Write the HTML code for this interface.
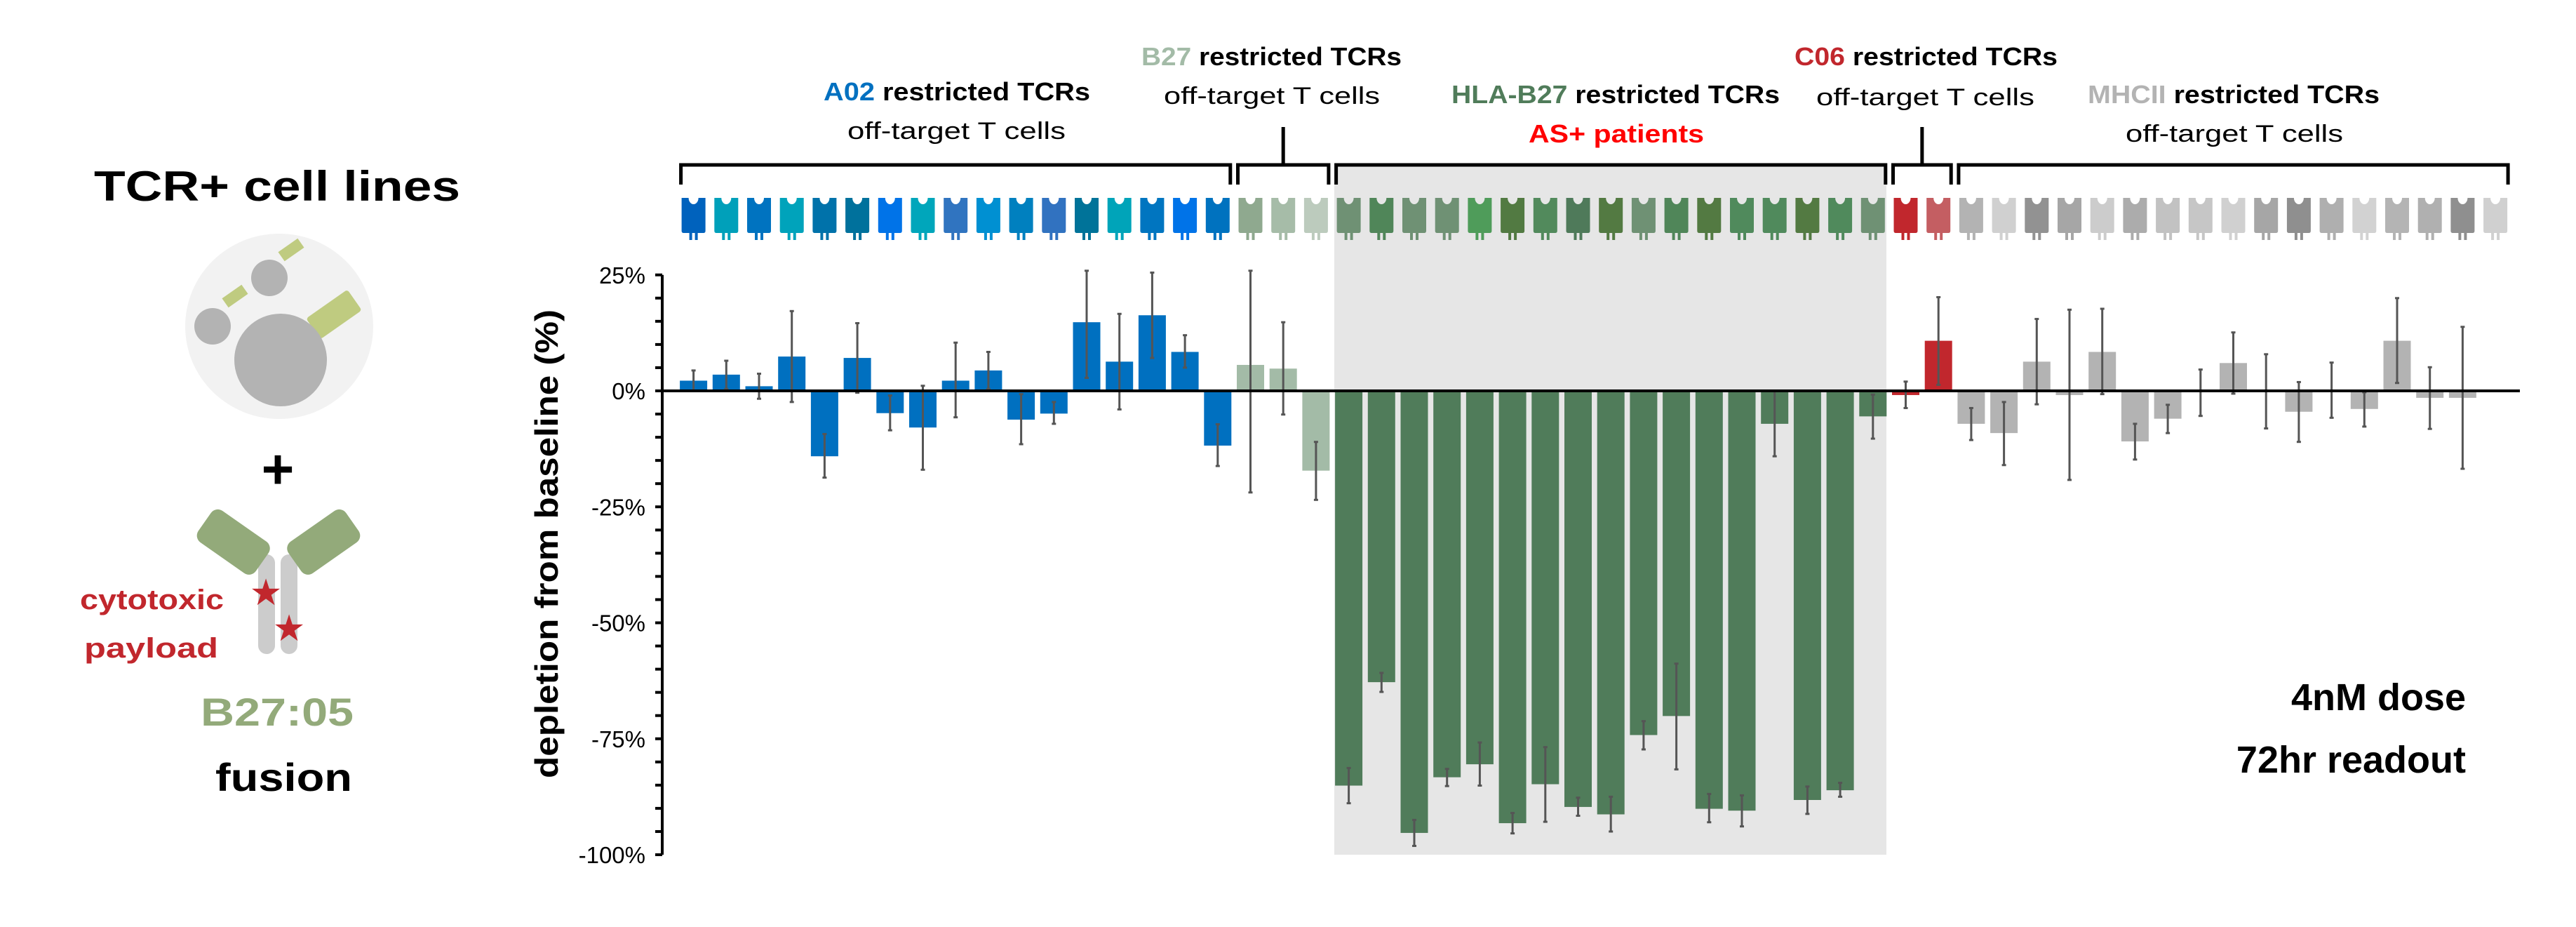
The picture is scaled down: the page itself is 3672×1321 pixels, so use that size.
<!DOCTYPE html>
<html><head><meta charset="utf-8"><style>
html,body{margin:0;padding:0;background:#fff}
svg{display:block}
text{font-family:"Liberation Sans",sans-serif}
</style></head><body>
<svg id="chart" xmlns="http://www.w3.org/2000/svg" width="3672" height="1321" viewBox="0 0 3672 1321">
<rect x="0" y="0" width="3672" height="1321" fill="#fff"/>
<g>
<text x="134" y="286" font-size="60" font-weight="bold" textLength="522" lengthAdjust="spacingAndGlyphs">TCR+ cell lines</text>
<ellipse cx="398" cy="465" rx="134" ry="132" fill="#f2f2f2"/>
<g fill="#bfcb80">
<rect x="318" y="414" width="34" height="16" transform="rotate(-35 335 422)"/>
<rect x="398" y="348" width="34" height="16" transform="rotate(-35 415 356)"/>
<rect x="440" y="430" width="72" height="36" rx="4" transform="rotate(-35 476 448)"/>
</g>
<circle cx="303" cy="465" r="26" fill="#b3b3b3"/>
<circle cx="384" cy="396" r="26" fill="#b3b3b3"/>
<circle cx="400" cy="513" r="66" fill="#b3b3b3"/>
<text x="396" y="696" font-size="80" font-weight="bold" text-anchor="middle">+</text>
<rect x="368" y="790" width="24" height="142" rx="12" fill="#cccccc"/>
<rect x="400" y="790" width="24" height="142" rx="12" fill="#cccccc"/>
<rect x="283" y="745" width="100" height="55" rx="12" fill="#93aa7a" transform="rotate(35 333 772)"/>
<rect x="411" y="745" width="100" height="55" rx="12" fill="#93aa7a" transform="rotate(-35 461 772)"/>
<text x="379" y="862" font-size="52" fill="#c1272d" text-anchor="middle">★</text>
<text x="412" y="913" font-size="52" fill="#c1272d" text-anchor="middle">★</text>
<text x="114" y="868" font-size="40" font-weight="bold" fill="#c1272d" textLength="205" lengthAdjust="spacingAndGlyphs">cytotoxic</text>
<text x="120" y="937" font-size="40" font-weight="bold" fill="#c1272d" textLength="191" lengthAdjust="spacingAndGlyphs">payload</text>
<text x="286" y="1034" font-size="56" font-weight="bold" fill="#93aa7a" textLength="218" lengthAdjust="spacingAndGlyphs">B27:05</text>
<text x="307" y="1127" font-size="56" font-weight="bold" textLength="195" lengthAdjust="spacingAndGlyphs">fusion</text>
</g>
<rect x="1902" y="233" width="787" height="985" fill="#e6e6e6"/>
<g id="headers">
<text x="1174" y="143" font-size="36" font-weight="bold" textLength="380" lengthAdjust="spacingAndGlyphs"><tspan fill="#0070c0">A02</tspan> restricted TCRs</text>
<text x="1208" y="198" font-size="34" textLength="311" lengthAdjust="spacingAndGlyphs">off-target T cells</text>
<text x="1627" y="93" font-size="36" font-weight="bold" textLength="371" lengthAdjust="spacingAndGlyphs"><tspan fill="#a3bba7">B27</tspan> restricted TCRs</text>
<text x="1659" y="148" font-size="34" textLength="308" lengthAdjust="spacingAndGlyphs">off-target T cells</text>
<text x="2069" y="147" font-size="36" font-weight="bold" textLength="468" lengthAdjust="spacingAndGlyphs"><tspan fill="#507c5a">HLA-B27</tspan> restricted TCRs</text>
<text x="2179" y="203" font-size="36" font-weight="bold" fill="#ff0000" textLength="250" lengthAdjust="spacingAndGlyphs">AS+ patients</text>
<text x="2558" y="93" font-size="36" font-weight="bold" textLength="375" lengthAdjust="spacingAndGlyphs"><tspan fill="#c1272d">C06</tspan> restricted TCRs</text>
<text x="2589" y="150" font-size="34" textLength="311" lengthAdjust="spacingAndGlyphs">off-target T cells</text>
<text x="2976" y="147" font-size="36" font-weight="bold" textLength="416" lengthAdjust="spacingAndGlyphs"><tspan fill="#b3b3b3">MHCII</tspan> restricted TCRs</text>
<text x="3030" y="202" font-size="34" textLength="310" lengthAdjust="spacingAndGlyphs">off-target T cells</text>
</g>
<g id="brackets" fill="none" stroke="#000" stroke-width="5"></g>
<g id="icons"></g>
<g id="axis"></g>
<g id="bars"></g>
<g id="errs" stroke="#555" stroke-width="3"></g>
<line x1="944" y1="557" x2="3592" y2="557" stroke="#000" stroke-width="4"/>
<text transform="translate(795 775) rotate(-90)" font-size="46" font-weight="bold" text-anchor="middle" textLength="668" lengthAdjust="spacingAndGlyphs">depletion from baseline (%)</text>
<text x="3515" y="1012" font-size="54" font-weight="bold" text-anchor="end">4nM dose</text>
<text x="3515" y="1101" font-size="54" font-weight="bold" text-anchor="end">72hr readout</text>
</svg>
<script>
const groups = ['A02','B27','HLA-B27','C06','MHCII'];
const groupSizes = [17,3,17,2,17];
const values = [2.2,3.5,1.0,7.4,-14.1,7.1,-4.8,-7.9,2.2,4.4,-6.2,-4.9,14.8,6.3,16.3,8.4,-11.8,
5.6,4.8,-17.2,
-85.1,-62.8,-95.3,-83.3,-80.5,-93.2,-84.8,-89.7,-91.3,-74.2,-70.1,-90.1,-90.5,-7.1,-88.2,-86.1,-5.5,
-0.9,10.8,
-7.1,-9.1,6.3,-0.9,8.4,-10.9,-6.0,-0.3,6.0,-0.2,-4.5,0,-3.9,10.8,-1.5,-1.5,0];
const errHigh = [4.4,6.5,3.7,17.2,-9.3,14.6,-1.0,1.1,10.4,8.4,-0.7,-2.4,25.9,16.6,25.5,12.0,-7.2,
25.9,14.8,-11.0,
-81.3,-60.8,-92.5,-81.5,-75.8,-91.0,-76.8,-87.7,-87.5,-71.2,-58.8,-86.9,-87.2,0,-85.3,-84.5,-0.8,
2.0,20.2,
-3.7,-2.4,15.5,17.5,17.7,-7.1,-3.0,4.6,12.6,7.9,1.9,6.1,-0.3,20.0,5.1,13.8,0];
const errLow = [0,0.4,-1.7,-2.4,-18.7,-0.4,-8.5,-17.0,-5.7,0.4,-11.5,-7.1,2.8,-4.0,7.1,5.0,-16.2,
-21.9,-5.1,-23.5,
-88.9,-64.9,-98.1,-85.2,-85.1,-95.4,-92.9,-91.6,-95.0,-77.3,-81.6,-93.0,-93.9,-14.1,-91.2,-87.5,-10.3,
-3.7,1.3,
-10.6,-16.0,-2.9,-19.2,-0.7,-14.8,-9.1,-5.4,-0.6,-8.1,-11.0,-5.8,-7.7,1.7,-8.2,-16.8,0];
const groupBarColors = ['#0070c0','#a3bba7','#507c5a','#c1272d','#b3b3b3'];
const iconColors = ['#0062bd','#00a0ba','#0073c0','#00a3bb','#0072aa','#00719c','#0073e8','#00a6bb','#3074c0','#0090d2','#0080bf','#3172c0','#007399','#00a4b9','#0075c0','#0073e8','#0072bf',
'#8fa98f','#a6bca8','#bccbbd',
'#6f9174','#508659','#6f9174','#6f9174','#4f9c5a','#527a42','#528a5c','#4f7a5a','#537a42','#6f9174','#508659','#537a42','#508a5c','#508a5c','#537a42','#508a5c','#6f9174',
'#c1272d','#c45e62',
'#b3b3b3','#d0d0d0','#929292','#a6a6a6','#cccccc','#acacac','#c2c2c2','#c6c6c6','#d0d0d0','#a6a6a6','#8f8f8f','#afafaf','#d2d2d2','#b4b4b4','#b0b0b0','#8f8f8f','#d0d0d0'];
const yTicks = [25,0,-25,-50,-75,-100];
const yTickLabels = ['25%','0%','-25%','-50%','-75%','-100%'];

const NS='http://www.w3.org/2000/svg';
const X0=988.6, STEP=46.7, BW=39;
const xc = i => X0 + i*STEP;
const y = v => 557 - v*6.61;
function mk(tag, attrs, parent){const e=document.createElementNS(NS,tag);for(const k in attrs)e.setAttribute(k,attrs[k]);parent.appendChild(e);return e;}

const ax=document.getElementById('axis');
const axl=mk('line',{x1:944,x2:944,y1:y(25),y2:y(-100),stroke:'#000','stroke-width':4},ax);


for(let v=25; v>=-100; v-=5){
  const t=mk('line',{x1:934,x2:944,y1:y(v),y2:y(v),stroke:'#000','stroke-width':4},ax);
  
  
}
yTicks.forEach((v,k)=>{
  const t=mk('text',{x:920,y:y(v)+12,'font-size':33,'text-anchor':'end'},ax);
  t.textContent=yTickLabels[k];
  
  
});

const starts=[];let s=0;groupSizes.forEach(n=>{starts.push(s);s+=n;});
function groupOf(i){for(let g=groupSizes.length-1;g>=0;g--) if(i>=starts[g]) return g;return 0;}

const br=document.getElementById('brackets');
groups.forEach((g,k)=>{
  const a=xc(starts[k])-18, b=xc(starts[k]+groupSizes[k]-1)+18;
  const p=mk('path',{d:`M${a} 263 V235 H${b} V263`},br);
  
  
  if(g==='B27'||g==='C06'){
    const m=(a+b)/2;
    const st=mk('line',{x1:m,x2:m,y1:181,y2:235},br);
    
    
  }
});

const ic=document.getElementById('icons');
iconColors.forEach((c,i)=>{
  const cx=xc(i);
  const g=mk('g',{fill:c},ic);
  
  
  mk('path',{d:`M${cx-17} 282 H${cx-7} A7 9 0 0 0 ${cx+7} 282 H${cx+17} V329 Q${cx+17} 332 ${cx+14} 332 H${cx-14} Q${cx-17} 332 ${cx-17} 329 Z`},g);
  mk('rect',{x:cx-6,y:330,width:4,height:12},g);
  mk('rect',{x:cx+2,y:330,width:4,height:12},g);
});

const bg=document.getElementById('bars'), eg=document.getElementById('errs');
values.forEach((v,i)=>{
  const g=groupOf(i);
  const top=Math.min(y(v),y(0)), h=Math.abs(y(v)-y(0));
  const r=mk('rect',{x:xc(i)-BW/2,y:top,width:BW,height:h,fill:groupBarColors[g]},bg);
  
  
  if(errHigh[i]!==errLow[i]){
    const e=mk('g',{},eg);
    
    
    mk('line',{x1:xc(i),x2:xc(i),y1:y(errHigh[i]),y2:y(errLow[i])},e);
    mk('line',{x1:xc(i)-3,x2:xc(i)+3,y1:y(errHigh[i]),y2:y(errHigh[i])},e);
    mk('line',{x1:xc(i)-3,x2:xc(i)+3,y1:y(errLow[i]),y2:y(errLow[i])},e);
  }
});
</script>
</body></html>
